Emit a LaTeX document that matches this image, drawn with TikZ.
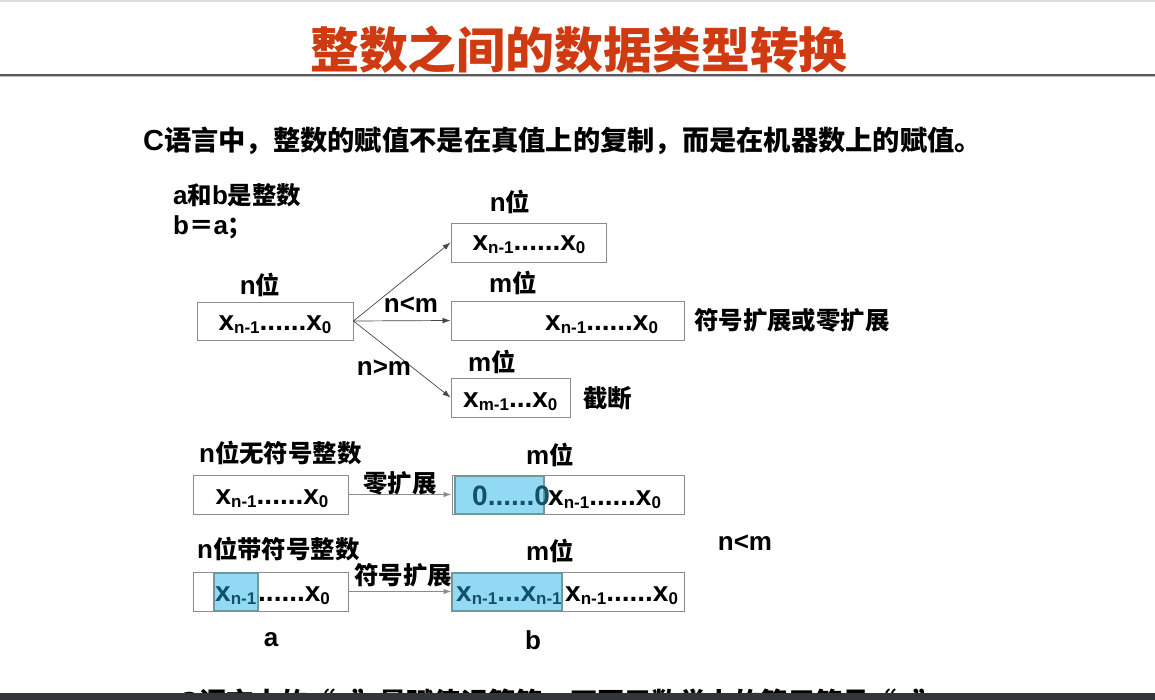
\documentclass[tikz,border=0pt]{standalone}
\usepackage{fontspec}
\setmainfont{Liberation Sans}
\newfontfamily\cjk{Noto Sans CJK SC}[Scale=0.94]
\usetikzlibrary{arrows.meta}

\definecolor{titlered}{RGB}{208,58,16}
\definecolor{topgray}{RGB}{220,220,220}
\definecolor{rulegray}{RGB}{90,90,90}
\definecolor{rulelight}{RGB}{190,190,190}
\definecolor{boxgray}{RGB}{140,140,140}
\definecolor{arrowgray}{RGB}{70,70,70}
\definecolor{bluefill}{RGB}{146,217,243}
\definecolor{blueedge}{RGB}{112,150,160}
\definecolor{blueink}{RGB}{20,80,105}
\definecolor{barcolor}{RGB}{50,54,58}

% Chinese run inside Latin text
\newcommand\zh[1]{{\cjk #1}}
% subscript of a bit name
\newcommand\bsub[1]{\raisebox{-3pt}{\fontsize{17}{17}\selectfont #1}}

\tikzset{
  every node/.style={inner sep=0pt, font=\bfseries},
  titletext/.style={text=titlered, font=\bfseries\cjk\fontsize{52}{55}\selectfont},
  lead/.style={font=\bfseries\fontsize{29}{33}\selectfont},
  lbl/.style={font=\bfseries\fontsize{26}{30}\selectfont},
  bits/.style={font=\bfseries\fontsize{28}{30}\selectfont},
  bitbox/.style={draw=boxgray, line width=0.8pt, fill=white},
  shade/.style={draw=blueedge, line width=2pt, fill=bluefill},
  conn/.style={draw=arrowgray, line width=0.7pt, -{Latex[length=8pt,width=5.5pt]}},
  conn2/.style={draw=boxgray, line width=1.2pt, -{Latex[length=8pt,width=5.5pt]}},
}

\begin{document}
\begin{tikzpicture}[x=1pt,y=-1pt]
\useasboundingbox (0,0) rectangle (1155,700);
\clip (0,0) rectangle (1155,700);

% heading
\fill[topgray] (0,0) rectangle (1155,2.5);
\node[titletext] (title) at (579,50) {整数之间的数据类型转换};
\draw[rulegray, line width=1.6pt] (0,75) -- (1155,75);
\draw[rulelight, line width=1pt] (0,76.8) -- (1155,76.8);

\node[lead, anchor=west] (lead) at (143,141)
  {C\zh{语言中，整数的赋值不是在真值上的复制，而是在机器数上的赋值。}};

\node[lbl, anchor=west] (decl) at (173,195) {a\zh{和}b\zh{是整数}};
\node[lbl, anchor=west] (assign) at (173,227) {b\zh{＝}a\zh{；}};

% assignment a -> b for the three width cases
\node[bitbox, minimum width=156pt, minimum height=38pt] (src) at (275,321) {};
\node[bits, anchor=base] (srct) at (275,330) {x\bsub{n-1}......x\bsub{0}};
\node[lbl] (srcw) at (260,285) {n\zh{位}};

\node[bitbox, minimum width=155pt, minimum height=39pt] (same) at (528.5,242.5) {};
\node[bits, anchor=base] (samet) at (529,251) {x\bsub{n-1}......x\bsub{0}};
\node[lbl] (samew) at (510,202) {n\zh{位}};

\node[bitbox, minimum width=233pt, minimum height=39pt] (wide) at (567.5,320.5) {};
\node[bits, anchor=base west] (widet) at (545,330) {x\bsub{n-1}......x\bsub{0}};
\node[lbl] (widew) at (513,283) {m\zh{位}};
\node[lbl, anchor=west] (widenote) at (694,320) {\zh{符号扩展或零扩展}};

\node[bitbox, minimum width=119pt, minimum height=39pt] (narrow) at (510.5,397.5) {};
\node[bits, anchor=base west] (narrowt) at (463,407) {x\bsub{m-1}...x\bsub{0}};
\node[lbl] (narroww) at (492,362) {m\zh{位}};
\node[lbl, anchor=west] (narrownote) at (583,398) {\zh{截断}};

\draw[conn] (src.east) -- (same.west);
\draw[conn] (src.east) -- (wide.west);
\draw[conn] (src.east) -- (narrow.west);
\node[lbl] (lt) at (411,305) {n<m};
\node[lbl] (gt) at (384,368) {n>m};

% zero extension of an unsigned integer
\node[lbl, anchor=west] (ulab) at (199,453) {n\zh{位无符号整数}};
\node[bitbox, minimum width=155pt, minimum height=39pt] (usrc) at (270.5,494.5) {};
\node[bits, anchor=base] (usrct) at (272,504) {x\bsub{n-1}......x\bsub{0}};
\node[bitbox, minimum width=232pt, minimum height=39pt] (udst) at (568,494.5) {};
\node[shade, minimum width=89pt, minimum height=38pt] (uzero) at (499,494.5) {};
\node[bits, anchor=base west, text=blueink] (uzerot) at (472,505) {0......0};
\node[bits, anchor=base west] (udstt) at (548,505) {x\bsub{n-1}......x\bsub{0}};
\node[lbl] (udstw) at (550,455) {m\zh{位}};
\draw[conn2] (usrc.east) -- (udst.west);
\node[lbl] (zext) at (400,483) {\zh{零扩展}};

% sign extension of a signed integer
\node[lbl, anchor=west] (slab) at (197,549) {n\zh{位带符号整数}};
\node[bitbox, minimum width=155pt, minimum height=39pt] (ssrc) at (270.5,591.5) {};
\node[shade, minimum width=44pt, minimum height=38pt] (ssign) at (235.5,591.5) {};
\node[bits, anchor=base west, text=blueink] (ssignt) at (215,601) {x\bsub{n-1}};
\node[bits, anchor=base west] (ssrct) at (258,601) {......x\bsub{0}};
\node[bitbox, minimum width=232pt, minimum height=39pt] (sdst) at (568,591.5) {};
\node[shade, minimum width=110pt, minimum height=38pt] (sfill) at (507,591.5) {};
\node[bits, anchor=base west, text=blueink] (sfillt) at (456,601) {x\bsub{n-1}...x\bsub{n-1}};
\node[bits, anchor=base west] (sdstt) at (565,601) {x\bsub{n-1}......x\bsub{0}};
\node[lbl] (sdstw) at (550,551) {m\zh{位}};
\draw[conn2] (ssrc.east) -- (sdst.west);
\node[lbl] (sext) at (403,575) {\zh{符号扩展}};

\node[lbl] (cond) at (745,543) {n<m};
\node[lbl] (namea) at (271,640) {a};
\node[lbl] (nameb) at (533,640) {b};

% next line of text, cut off by the bottom bar
\node[lead, anchor=base west] (note) at (178,712)
  {C\zh{语言中的“=”是赋值运算符，不同于数学上的等于符号“=”}};
\fill[barcolor] (0,693) rectangle (1155,700);
\end{tikzpicture}
\end{document}
